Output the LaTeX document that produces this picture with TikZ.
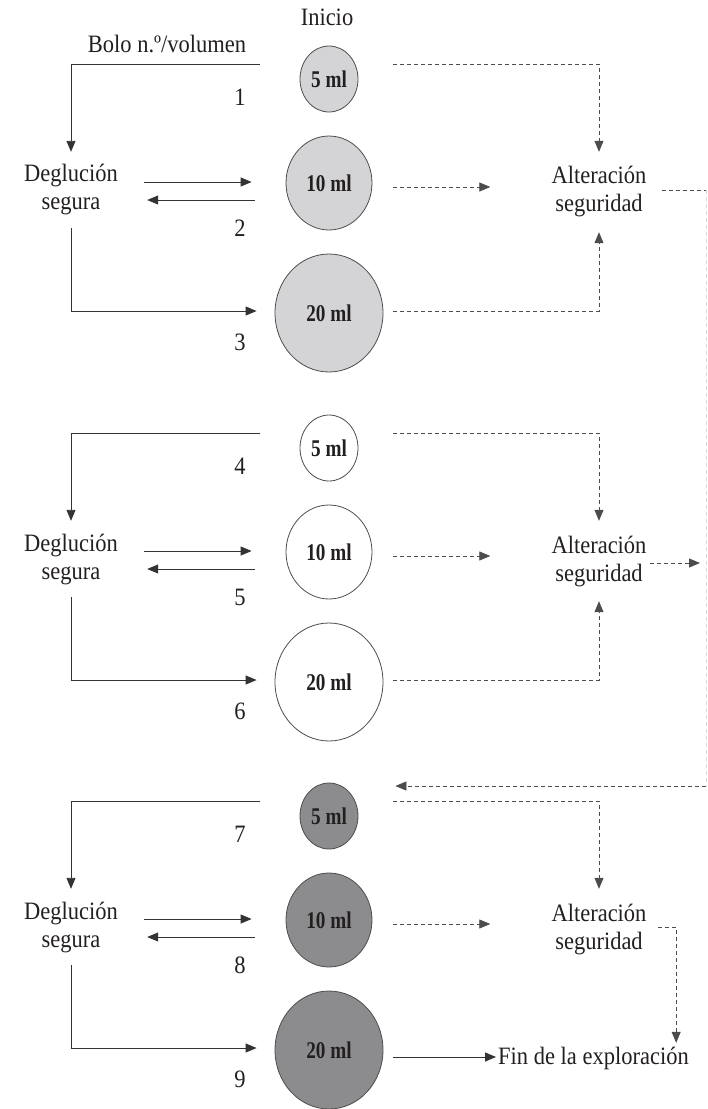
\documentclass[tikz,border=0pt]{standalone}
\usepackage{fontspec}
\setmainfont{Liberation Serif}[FakeStretch=0.9]
\newfontfamily\volfont{Liberation Serif}[FakeStretch=0.8]
\usetikzlibrary{shapes.geometric,arrows.meta}
\definecolor{inkc}{HTML}{231F20}
\definecolor{lightbolus}{HTML}{D4D4D6}
\definecolor{darkbolus}{HTML}{8C8C8E}

% One block of the test: three bolus volumes, the safe-swallow loop
% on the left and the links to "Alteracion seguridad" on the right.
% #1 name prefix, #2 y of the top line, #3 fill, #4-#6 step numbers
\newcommand\bolussection[6]{%
  \coordinate (#1-top) at (260,#2);
  \node[b5,fill=#3]  (#1-c5)  at (329,{#2+15})  {5 ml};
  \node[b10,fill=#3] (#1-c10) at (329,{#2+119}) {10 ml};
  \node[b20,fill=#3] (#1-c20) at (329,{#2+249}) {20 ml};
  \node[txt, minimum width=146pt, minimum height=76pt] (#1-deg) at (71,{#2+126}) {Deglución\\segura};
  \node[txt] (#1-n1) at (240,{#2+33})  {#4};
  \node[txt] (#1-n2) at (240,{#2+164}) {#5};
  \node[txt] (#1-n3) at (240,{#2+278}) {#6};
  \node[txt, minimum height=80pt, inner xsep=3pt] (#1-alt) at (599,{#2+128}) {Alteración\\seguridad};
  % left loop
  \draw[arr] (#1-top) -| (#1-deg.north);
  \draw[arr, shorten >=34pt] ([yshift=8pt]#1-deg.east) -- ([yshift=8pt]#1-deg.east -| #1-c10.west);
  \draw[arr, shorten <=31pt, shorten >=3pt] ([yshift=-10pt]#1-deg.east -| #1-c10.west) -- ([yshift=-10pt]#1-deg.east);
  \draw[arr, shorten >=18pt] (#1-deg.south) |- ([yshift=2pt]#1-c20.west);
  % right side
  \draw[darr, shorten <=35pt] (#1-c5.east |- #1-top) -| (#1-alt.north);
  \draw[darr, shorten <=21pt, shorten >=58pt] ([yshift=-4pt]#1-c10.east) -- ([yshift=-4pt]#1-c10.east -| #1-alt.west);
}

\begin{document}
\begin{tikzpicture}[x=1pt,y=-1pt,
  txt/.style={font=\fontsize{25}{28}\selectfont, text=inkc, align=center, inner sep=0pt},
  bolus/.style={ellipse, draw=black!70, line width=0.8pt, inner sep=0pt,
    font=\volfont\bfseries\fontsize{24}{24}\selectfont, text=inkc},
  b5/.style={bolus, minimum width=58pt, minimum height=66pt},
  b10/.style={bolus, minimum width=86pt, minimum height=94pt},
  b20/.style={bolus, minimum width=108pt, minimum height=118pt},
  link/.style={draw=black!80, line width=0.9pt},
  arr/.style={link, -{Triangle[length=11pt,width=9pt]}},
  dlink/.style={draw=black!70, line width=0.8pt, dash pattern=on 4pt off 3pt},
  darr/.style={dlink, -{Triangle[length=11pt,width=9pt]}},
]
\useasboundingbox (0,0) rectangle (708,1109);

\node[txt] (inicio) at (327,17) {Inicio};
\node[txt] (bolo) at (167,44) {Bolo n.º/volumen};

\bolussection{T}{64}{lightbolus}{1}{2}{3}
\bolussection{M}{433}{white}{4}{5}{6}
\bolussection{B}{801}{darkbolus}{7}{8}{9}

% 20 ml back up to the alteration in the first two blocks
\draw[darr, shorten <=10pt] ([yshift=2pt]T-c20.east) -| (T-alt.south);
\draw[darr, shorten <=10pt] ([yshift=2pt]M-c20.east) -| (M-alt.south);

% return path along the right edge to the last block
\coordinate (RT) at (706,190);
\coordinate (RB) at (706,786);
\draw[dlink, shorten <=12pt] ([yshift=2pt]T-alt.east) -- (RT);
\draw[dlink, draw=black!14] (RT) -- (RB);
\draw[darr, shorten >=6pt] ([yshift=-2pt]M-alt.east) -- ([yshift=-2pt]M-alt.east -| RT);
\draw[darr, shorten >=37pt] (RB) -- (RB -| B-c5.east);

% end of the exploration
\node[txt, anchor=west, minimum height=30pt, inner xsep=2pt] (B-fin) at (496,1058) {Fin de la exploración};
\draw[arr, shorten <=10pt] ([yshift=-7pt]B-c20.east) -- ([yshift=-7pt]B-c20.east -| B-fin.west);
\draw[darr, shorten <=8pt] ([yshift=2pt]B-alt.east) -- ++(26.5,0) coordinate (B-bend) -- (B-bend |- B-fin.north);
\end{tikzpicture}
\end{document}
